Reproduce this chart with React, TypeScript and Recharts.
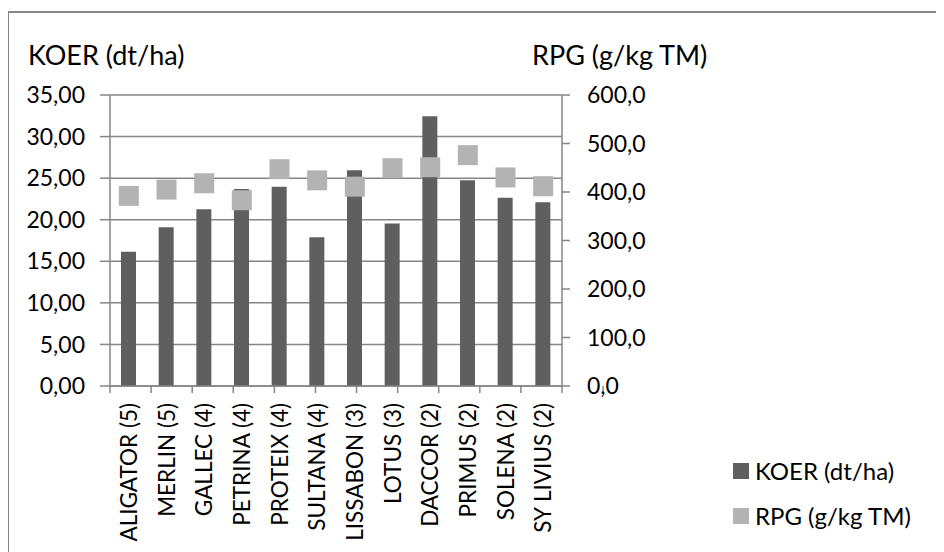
import React from "react";
import {
  ComposedChart,
  Bar,
  Line,
  XAxis,
  YAxis,
  CartesianGrid,
  Legend,
} from "recharts";

const categories = [
  "ALIGATOR (5)",
  "MERLIN (5)",
  "GALLEC (4)",
  "PETRINA (4)",
  "PROTEIX (4)",
  "SULTANA (4)",
  "LISSABON (3)",
  "LOTUS (3)",
  "DACCOR (2)",
  "PRIMUS (2)",
  "SOLENA (2)",
  "SY LIVIUS (2)",
];
const koer = [16.15, 19.1, 21.25, 23.7, 23.95, 17.9, 25.95, 19.55, 32.45, 24.75, 22.65, 22.1];
const rpg = [392, 405, 418, 383, 447, 424, 411, 449, 451, 476, 430, 412];
const leftTicks = [0, 5, 10, 15, 20, 25, 30, 35];
const rightTicks = [0, 100, 200, 300, 400, 500, 600];
const boundaryTicks = [0, 1, 2, 3, 4, 5, 6, 7, 8, 9, 10, 11, 12];
const seriesNames = ["KOER (dt/ha)", "RPG (g/kg TM)"];
const seriesColors = ["#5f5f5f", "#b3b3b3"];

const data = categories.map((name, i) => ({ name, koer: koer[i], rpg: rpg[i] }));

const FONT = "Lato";
const GRAY = "#868686";

const fmtLeft = (v: number) => v.toFixed(2).replace(".", ",");
const fmtRight = (v: number) => v.toFixed(1).replace(".", ",");

const CatTick = (props: any) => {
  const { x, y, payload } = props;
  const ty = y + 16;
  return (
    <text
      x={x}
      y={ty}
      transform={`rotate(-90, ${x}, ${ty})`}
      textAnchor="end"
      dy="0.36em"
      fontFamily={FONT}
      fontSize={22.5}
      fill="#000"
    >
      {payload.value}
    </text>
  );
};

const EmptyTick = () => <g />;

const SquareDot = (props: any) => {
  const { cx, cy, index } = props;
  if (cx == null || cy == null) return null;
  return <rect key={index} x={cx - 10} y={cy - 10} width={20} height={20} fill={seriesColors[1]} />;
};

const LegendContent = () => (
  <div style={{ fontFamily: FONT, fontSize: 24, color: "#000" }}>
    {seriesNames.map((n, i) => (
      <div key={n} style={{ display: "flex", alignItems: "center", height: 45 }}>
        <div style={{ width: 16, height: 16, background: seriesColors[i], marginRight: 6 }} />
        <span>{n}</span>
      </div>
    ))}
  </div>
);

export default function App() {
  return (
    <div
      style={{
        position: "relative",
        width: 944,
        height: 552,
        margin: "-8px 0 0 -8px",
        overflow: "hidden",
        background: "#fff",
      }}
    >
      <div
        style={{
          position: "absolute",
          left: 7,
          top: 11,
          width: 1000,
          height: 1000,
          border: `2px solid ${GRAY}`,
          boxSizing: "border-box",
        }}
      />
      <div
        style={{
          position: "absolute",
          left: 28,
          top: 38,
          fontFamily: FONT,
          fontSize: 27,
          color: "#000",
          whiteSpace: "nowrap",
        }}
      >
        {seriesNames[0]}
      </div>
      <div
        style={{
          position: "absolute",
          left: 532,
          top: 38,
          fontFamily: FONT,
          fontSize: 27,
          color: "#000",
          whiteSpace: "nowrap",
        }}
      >
        {seriesNames[1]}
      </div>
      <div style={{ position: "absolute", left: 0, top: 0 }}>
        <ComposedChart
          width={944}
          height={552}
          data={data}
          margin={{ top: 95, right: 282, left: 0, bottom: 0 }}
        >
          <CartesianGrid vertical={false} stroke={GRAY} strokeWidth={1.5} yAxisId="left" />
          <XAxis
            xAxisId="a"
            type="number"
            domain={[0, 12]}
            ticks={boundaryTicks}
            tick={<EmptyTick />}
            tickSize={7}
            height={1}
            stroke={GRAY}
            strokeWidth={1.5}
            allowDataOverflow
          />
          <XAxis
            xAxisId="b"
            dataKey="name"
            interval={0}
            height={165}
            tickLine={false}
            axisLine={false}
            tickSize={0}
            tickMargin={0}
            tick={<CatTick />}
          />
          <YAxis
            yAxisId="left"
            orientation="left"
            width={110}
            domain={[0, 35]}
            ticks={leftTicks}
            tickFormatter={fmtLeft}
            tickSize={10}
            tickMargin={15}
            stroke={GRAY}
            strokeWidth={1.5}
            tick={{ fontFamily: FONT, fontSize: 23, fill: "#000" }}
          />
          <YAxis
            yAxisId="right"
            orientation="right"
            width={100}
            domain={[0, 600]}
            ticks={rightTicks}
            tickFormatter={fmtRight}
            tickSize={8}
            tickMargin={17}
            stroke={GRAY}
            strokeWidth={1.5}
            tick={{ fontFamily: FONT, fontSize: 23, fill: "#000", textAnchor: "start" }}
          />
          <Bar
            xAxisId="b"
            yAxisId="left"
            dataKey="koer"
            name={seriesNames[0]}
            fill={seriesColors[0]}
            barSize={15}
            isAnimationActive={false}
          />
          <Line
            xAxisId="b"
            yAxisId="right"
            dataKey="rpg"
            name={seriesNames[1]}
            stroke="none"
            dot={<SquareDot />}
            activeDot={false}
            isAnimationActive={false}
          />
          <Legend
            layout="vertical"
            align="center"
            verticalAlign="middle"
            content={<LegendContent />}
            wrapperStyle={{ left: 733, top: 448, width: 210, height: 90 }}
          />
        </ComposedChart>
      </div>
    </div>
  );
}
